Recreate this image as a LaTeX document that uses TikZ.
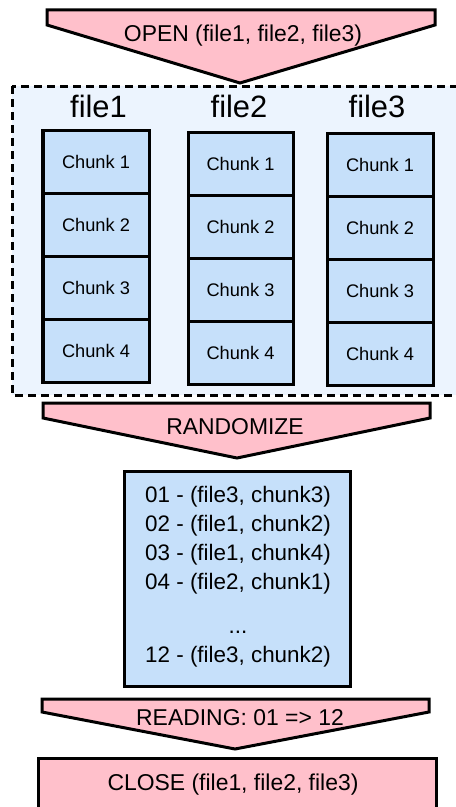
\documentclass[tikz,border=0pt]{standalone}
\usepackage{fontspec}
\setmainfont{Liberation Sans}
\definecolor{pinkfill}{RGB}{255,192,203}
\definecolor{chunkfill}{RGB}{198,224,250}
\definecolor{groupfill}{RGB}{236,244,254}
\begin{document}
\begin{tikzpicture}[x=1bp,y=-1bp,
  chunkbox/.style={draw=black, line width=3bp, fill=chunkfill, minimum width=105bp, minimum height=63bp, inner sep=0pt, font=\fontsize{18.3}{20}\selectfont},
  arrowshape/.style={draw=black, line width=3bp, fill=pinkfill, line join=miter},
  bigtext/.style={font=\fontsize{23}{26}\selectfont, inner sep=0pt, anchor=base},
  listtext/.style={font=\fontsize{22.5}{26}\selectfont, inner sep=0pt, anchor=base},
  filelabel/.style={font=\fontsize{31}{34}\selectfont, inner sep=0pt}]
\useasboundingbox (0,0) rectangle (456,807);
\clip (0,0) rectangle (456,807);
\fill[white] (0,0) rectangle (456,807);

% group of files
\draw[line width=3bp, dash pattern=on 8bp off 5bp, fill=groupfill] (12,86) rectangle (485,395);

% OPEN arrow
\draw[arrowshape] (47,10) -- (435,10) -- (435,25) -- (240,83) -- (47,25) -- cycle;
\node[bigtext] (open) at (243,41.5) {OPEN (file1, file2, file3)};

% file labels
\node[filelabel] (f1) at (98.5,106) {file1};
\node[filelabel] (f2) at (239,106) {file2};
\node[filelabel] (f3) at (377,106) {file3};

% column 1
\node[chunkbox, minimum width=106bp] (a1) at (96,161.5) {Chunk 1};
\node[chunkbox, minimum width=106bp] (a2) at (96,224.5) {Chunk 2};
\node[chunkbox, minimum width=106bp] (a3) at (96,287.5) {Chunk 3};
\node[chunkbox, minimum width=106bp] (a4) at (96,350.5) {Chunk 4};
% column 2
\node[chunkbox] (b1) at (240.5,163.5) {Chunk 1};
\node[chunkbox] (b2) at (240.5,226.5) {Chunk 2};
\node[chunkbox] (b3) at (240.5,289.5) {Chunk 3};
\node[chunkbox] (b4) at (240.5,352.5) {Chunk 4};
% column 3
\node[chunkbox, minimum width=106bp] (c1) at (380,165) {Chunk 1};
\node[chunkbox, minimum width=106bp] (c2) at (380,228) {Chunk 2};
\node[chunkbox, minimum width=106bp] (c3) at (380,291) {Chunk 3};
\node[chunkbox, minimum width=106bp] (c4) at (380,354) {Chunk 4};

% RANDOMIZE arrow
\draw[arrowshape] (43,403) -- (430,403) -- (430,418) -- (237,458) -- (43,418) -- cycle;
\node[bigtext] (rand) at (235,434) {RANDOMIZE};

% list
\node[draw=black, line width=3bp, fill=chunkfill, minimum width=226bp, minimum height=215bp, inner sep=0pt] (list) at (237,578.5) {};
\node[listtext] (l1) at (238,502) {01 - (file3, chunk3)};
\node[listtext] (l2) at (238,531) {02 - (file1, chunk2)};
\node[listtext] (l3) at (238,560) {03 - (file1, chunk4)};
\node[listtext] (l4) at (238,589) {04 - (file2, chunk1)};
\node[listtext] (l5) at (238,633) {...};
\node[listtext] (l6) at (238,662) {12 - (file3, chunk2)};

% READING arrow
\draw[arrowshape] (42,699) -- (429,699) -- (429,712) -- (235,749) -- (42,712) -- cycle;
\node[bigtext] (read) at (240,725) {READING: 01 => 12};

% CLOSE box
\node[draw=black, line width=3bp, fill=pinkfill, minimum width=397bp, minimum height=80bp, inner sep=0pt] (close) at (237.5,798) {};
\node[bigtext] (closet) at (233,790) {CLOSE (file1, file2, file3)};
\end{tikzpicture}
\end{document}
